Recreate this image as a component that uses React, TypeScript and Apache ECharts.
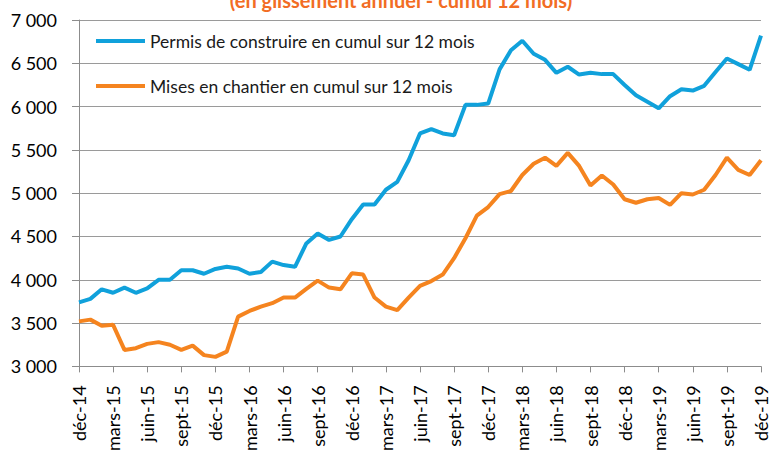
import React, { useEffect, useRef } from "react";
import * as echarts from "echarts";

const months = [
  "déc-14",
  "janv-15", "févr-15", "mars-15", "avr-15", "mai-15", "juin-15", "juil-15", "août-15", "sept-15", "oct-15", "nov-15", "déc-15",
  "janv-16", "févr-16", "mars-16", "avr-16", "mai-16", "juin-16", "juil-16", "août-16", "sept-16", "oct-16", "nov-16", "déc-16",
  "janv-17", "févr-17", "mars-17", "avr-17", "mai-17", "juin-17", "juil-17", "août-17", "sept-17", "oct-17", "nov-17", "déc-17",
  "janv-18", "févr-18", "mars-18", "avr-18", "mai-18", "juin-18", "juil-18", "août-18", "sept-18", "oct-18", "nov-18", "déc-18",
  "janv-19", "févr-19", "mars-19", "avr-19", "mai-19", "juin-19", "juil-19", "août-19", "sept-19", "oct-19", "nov-19", "déc-19",
];

const permis = [
  3740, 3780, 3890, 3850, 3910, 3850, 3900, 4000, 4000, 4110,
  4110, 4070, 4125, 4150, 4130, 4070, 4090, 4210, 4170, 4150,
  4420, 4535, 4460, 4500, 4700, 4870, 4870, 5040, 5130, 5380,
  5690, 5740, 5690, 5670, 6020, 6020, 6035, 6430, 6650, 6760,
  6610, 6540, 6390, 6460, 6370, 6390, 6375, 6375, 6250, 6130,
  6055, 5980, 6120, 6200, 6185, 6240, 6400, 6555, 6490, 6425,
  6820,
];

const misesEnChantier = [
  3520, 3540, 3470, 3480, 3190, 3210, 3260, 3280, 3250, 3190,
  3240, 3130, 3110, 3170, 3575, 3640, 3690, 3730, 3795, 3795,
  3895, 3990, 3910, 3890, 4075, 4060, 3795, 3690, 3650, 3795,
  3930, 3985, 4060, 4250, 4480, 4740, 4840, 4990, 5025, 5210,
  5340, 5410, 5315, 5465, 5315, 5090, 5205, 5100, 4930, 4890,
  4930, 4945, 4865, 5000, 4985, 5040, 5210, 5410, 5270, 5210,
  5380,
];

const seriesNames = [
  "Permis de construire en cumul sur 12 mois",
  "Mises en chantier en cumul sur 12 mois",
];
const titleText = "(en glissement annuel - cumul 12 mois)";

const BLUE = "#10A1DB";
const ORANGE = "#F5841F";
const FONT = "Lato, 'Noto Sans', sans-serif";

export default function App() {
  const ref = useRef<HTMLDivElement>(null);

  useEffect(() => {
    document.body.style.margin = "0";
    if (!ref.current) return;
    const chart = echarts.init(ref.current, undefined, { renderer: "svg" });
    chart.setOption({
      animation: false,
      textStyle: { fontFamily: FONT },
      graphic: [
        {
          type: "text",
          x: 401,
          y: 0,
          style: {
            text: titleText,
            fill: "#F26D24",
            font: "bold 20px " + FONT,
            textAlign: "center",
            textVerticalAlign: "middle",
          },
        },
      ],
      legend: {
        orient: "vertical",
        left: 91,
        top: 27,
        icon: "rect",
        itemWidth: 49,
        itemHeight: 4,
        itemGap: 27,
        textStyle: { fontSize: 17.5, color: "#1a1a1a", fontFamily: FONT, padding: [0, 0, 0, 0] },
        data: seriesNames,
      },
      grid: { left: 79, right: 8, top: 20, bottom: 82, containLabel: false },
      xAxis: {
        type: "category",
        data: months,
        boundaryGap: false,
        axisLine: { lineStyle: { color: "#8C8C8C", width: 1 } },
        axisTick: { interval: 2, length: 6, lineStyle: { color: "#8C8C8C" } },
        axisLabel: {
          interval: 2,
          rotate: 90,
          fontSize: 18,
          color: "#000",
          fontFamily: FONT,
          margin: 19,
        },
        splitLine: { show: false },
      },
      yAxis: {
        type: "value",
        min: 3000,
        max: 7000,
        interval: 500,
        axisLine: { show: true, lineStyle: { color: "#8C8C8C", width: 1 } },
        axisTick: { show: true, length: 7, lineStyle: { color: "#8C8C8C" } },
        axisLabel: {
          fontSize: 18,
          color: "#000",
          margin: 22,
          formatter: (v: number) => String(v).replace(/\B(?=(\d{3})+(?!\d))/g, " "),
        },
        splitLine: { lineStyle: { color: "#9A9A9A", width: 1 } },
      },
      series: [
        {
          name: seriesNames[0],
          type: "line",
          data: permis,
          symbol: "none",
          lineStyle: { color: BLUE, width: 4 },
          itemStyle: { color: BLUE },
        },
        {
          name: seriesNames[1],
          type: "line",
          data: misesEnChantier,
          symbol: "none",
          lineStyle: { color: ORANGE, width: 4 },
          itemStyle: { color: ORANGE },
        },
      ],
    });
    return () => chart.dispose();
  }, []);

  return <div ref={ref} style={{ width: 770, height: 454 }} />;
}
